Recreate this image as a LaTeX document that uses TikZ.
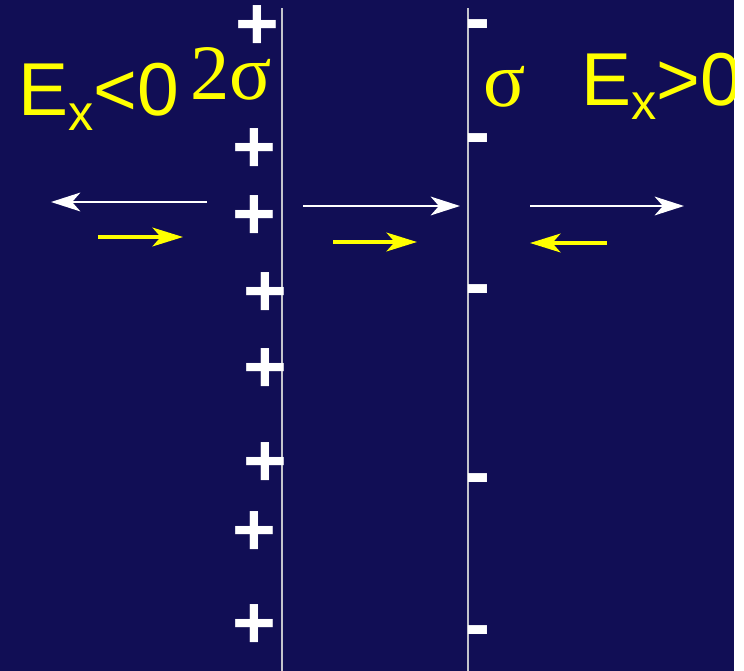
\documentclass[tikz,border=0pt]{standalone}
\usepackage{fontspec}
\setmainfont{Liberation Sans}
\newfontfamily\serifgreek{Liberation Serif}
\usetikzlibrary{arrows.meta}
\definecolor{cnavy}{RGB}{17,14,85}
\definecolor{cyell}{RGB}{255,255,0}
\definecolor{csheet}{RGB}{196,196,204}
\newcommand{\slidesize}{\fontsize{64}{70}\selectfont}
\newcommand{\chargesize}{\fontsize{64}{70}\selectfont\bfseries}
\newcommand{\greeksize}{\fontsize{67}{74}\selectfont}
\newcommand{\subsize}{\fontsize{43}{48}\selectfont}

\begin{document}
\begin{tikzpicture}[
    x=0.03cm, y=-0.03cm,
    sheet/.style={csheet, line width=2.2pt},
    charge/.style={font=\chargesize, text=white, inner sep=0pt, outer sep=0pt},
    plusmark/.style={charge, anchor=base},
    minusmark/.style={charge, anchor=base west},
    lbl/.style={font=\slidesize, text=cyell, inner sep=0pt, anchor=base west},
    efield/.style={white, line width=2.2pt, -{Stealth[length=25pt, width=16pt, inset=7pt]}},
    ysub/.style={cyell, line width=3pt, -{Stealth[length=26pt, width=16pt, inset=7pt]}},
]

% page and slide background
\useasboundingbox (0,0) rectangle (744,671);
\fill[white] (0,0) rectangle (744,671);
\fill[cnavy] (0,0) rectangle (734,671);

\begin{scope}
\clip (0,0) rectangle (734,671);

% the two charged sheets
\draw[sheet] (282,8) -- (282,671);
\draw[sheet] (468,8) -- (468,671);

% positive charges on the left sheet
\foreach \px/\py [count=\i] in {257/24, 254/146, 254/213, 265/290, 265/366, 265/460, 254/529, 254/622}
    \node[plusmark] (plus\i) at (\px, \py+26) {+};

% negative charges on the right sheet
\foreach \my [count=\i] in {24, 138, 289, 478, 630}
    \node[minusmark] (minus\i) at (465, \my+19) {-};

% labels
\node[lbl] (exleft) at (18,115) {E\raisebox{-13pt}{\subsize x}<0};
\node[lbl] (twosig) at (190,99) {\serifgreek\greeksize 2σ};
\node[lbl] (onesig) at (483,106) {\serifgreek\greeksize σ};
\node[lbl] (exright) at (581,105) {E\raisebox{-12pt}{\subsize x}>0};

% field of the 2sigma sheet (white)
\draw[efield] (207,202) -- (51,202);
\draw[efield] (303,206) -- (460,206);
\draw[efield] (530,206) -- (684,206);

% field of the sigma sheet (yellow)
\draw[ysub] (98,237) -- (183,237);
\draw[ysub] (333,242) -- (417,242);
\draw[ysub] (607,243) -- (530,243);
\end{scope}

\end{tikzpicture}
\end{document}
